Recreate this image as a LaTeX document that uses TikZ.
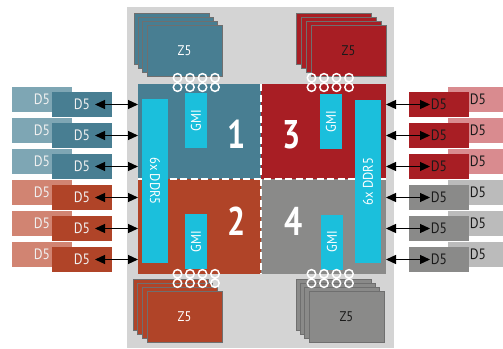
\documentclass[tikz,border=0pt]{standalone}
\usepackage{fontspec}
\setmainfont{PT Sans}
\newfontfamily\condf[FakeStretch=0.9]{PT Sans}
\newfontfamily\numf[FakeStretch=0.8]{PT Sans}
\usetikzlibrary{arrows.meta,calc}
\definecolor{bgc}{HTML}{D4D4D4}
\definecolor{qblue}{HTML}{487E92}
\definecolor{qred}{HTML}{A81E24}
\definecolor{qorange}{HTML}{B04428}
\definecolor{qgray}{HTML}{8A8A89}
\definecolor{cy}{HTML}{1BBFDC}
\definecolor{lblue}{HTML}{7EA6B4}
\definecolor{lorange}{HTML}{D18472}
\definecolor{lpink}{HTML}{D98B8F}
\definecolor{lgray}{HTML}{BBBBBB}
\definecolor{zborder}{HTML}{6F6F6F}
\definecolor{darktxt}{HTML}{1A1A1A}
\tikzset{
  blk/.style={inner sep=0pt, outer sep=0pt, anchor=north west, draw=none},
  zbox/.style={blk, minimum width=75pt, minimum height=51pt, draw=zborder, line width=0.9pt, font=\condf\fontsize{14}{14}\selectfont},
  dbox/.style={blk, minimum width=60pt, minimum height=25pt, font=\condf\fontsize{15}{15}\selectfont},
  bar/.style={inner sep=0pt, outer sep=0pt, fill=cy, text=white, font=\condf\fontsize{14}{14}\selectfont},
  bignum/.style={text=white, inner sep=0pt, font=\numf\bfseries\fontsize{40}{40}\selectfont},
  dashw/.style={draw=white, line width=1.8pt, dash pattern=on 7pt off 3.5pt},
  link/.style={draw=white, line width=1.5pt},
  dbl/.style={{Triangle[length=10pt,width=9pt]}-{Triangle[length=10pt,width=9pt]}, line width=1.2pt, black}
}
\begin{document}
\begin{tikzpicture}[x=1pt,y=-1pt]
\useasboundingbox (0,0) rectangle (503,348);
% background
\node[blk, fill=bgc, minimum width=267pt, minimum height=341pt] (bg) at (127,7) {};
% Z5 stacks
\foreach \i/\dx/\dy in {0/0/0,1/4.3/4,2/8.6/8,3/13/12}{
  \node[zbox, fill=qblue] (ztl\i) at (134+\dx,13+\dy) {};
  \node[zbox, fill=qred] (ztr\i) at (296+5*\i,13+\dy) {};
  \node[zbox, fill=qorange] (zbl\i) at (133+4.67*\i,279+\dy) {};
  \node[zbox, fill=qgray] (zbr\i) at (296+4.33*\i,279+\dy) {};
}
\node[text=white, font=\condf\fontsize{14}{14}\selectfont] (ztlt) at (ztl3.center) {Z5};
\node[text=darktxt, font=\condf\fontsize{14}{14}\selectfont] (ztrt) at (ztr3.center) {Z5};
\node[text=white, font=\condf\fontsize{14}{14}\selectfont] (zblt) at (zbl3.center) {Z5};
\node[text=darktxt, font=\condf\fontsize{14}{14}\selectfont] (zbrt) at (zbr3.center) {Z5};
% quadrants
\node[blk, fill=qblue, minimum width=123pt, minimum height=95pt] (q1) at (138,84) {};
\node[blk, fill=qred, minimum width=125pt, minimum height=95pt] (q3) at (261,84) {};
\node[blk, fill=qorange, minimum width=123pt, minimum height=95pt] (q2) at (138,179) {};
\node[blk, fill=qgray, minimum width=125pt, minimum height=95pt] (q4) at (261,179) {};
\draw[dashw] (q1.north east) -- (q2.south east);
\draw[dashw] (q1.south west) -- (q3.south east);
% numbers
\node[bignum] (n1) at (236.5,134.5) {1};
\node[bignum] (n3) at (291.5,134.5) {3};
\node[bignum] (n2) at (237,221) {2};
\node[bignum] (n4) at (293.5,221) {4};
% DDR bars
\node[bar, minimum width=164pt, minimum height=26pt, rotate=-90] (ddrl) at (155,181) {6x DDR5};
\node[bar, minimum width=163pt, minimum height=26pt, rotate=90] (ddrr) at (368,181.5) {6x DDR5};
% GMI bars
\node[bar, minimum width=55pt, minimum height=22pt, rotate=90] (g1) at (196,120.5) {GMI};
\node[bar, minimum width=55pt, minimum height=22pt, rotate=90] (g3) at (331,121.5) {GMI};
\node[bar, minimum width=55pt, minimum height=22pt, rotate=90] (g2) at (196,241.5) {GMI};
\node[bar, minimum width=55pt, minimum height=22pt, rotate=90] (g4) at (332,242) {GMI};
% links
\foreach \x in {177.5,190,202.5,215,311.5,324,336.5,349}{
  \draw[link] (\x,77.8) circle (4.2) (\x,87.2) circle (4.2);
  \draw[link] (\x,273.8) circle (4.2) (\x,283.2) circle (4.2);
}
% D5 boxes left
\foreach \i in {0,1,2}{
  \node[dbox, fill=lblue, text=white!94!black] (lb\i) at (12,87+31*\i) {D5};
  \node[dbox, fill=qblue, text=white!94!black] (lf\i) at (52,92+31*\i) {D5};
  \draw[dbl] ($(lf\i.east)+(-17,0)$) -- (lf\i.east -| q1.west);
}
\foreach \i in {3,4,5}{
  \node[dbox, fill=lorange, text=white!94!black] (lb\i) at (12,87+31*\i) {D5};
  \node[dbox, fill=qorange, text=white!94!black] (lf\i) at (52,92+31*\i) {D5};
  \draw[dbl] ($(lf\i.east)+(-17,0)$) -- (lf\i.east -| q2.west);
}
% D5 boxes right
\foreach \i in {0,1,2}{
  \node[dbox, fill=lpink, text=darktxt] (rb\i) at (448,87+31*\i) {D5};
  \node[dbox, fill=qred, text=darktxt] (rf\i) at (409,92+31*\i) {D5};
  \draw[dbl] (rf\i.west -| q3.east) -- ($(rf\i.west)+(21,0)$);
}
\foreach \i in {3,4,5}{
  \node[dbox, fill=lgray, text=darktxt] (rb\i) at (448,87+31*\i) {D5};
  \node[dbox, fill=qgray, text=darktxt] (rf\i) at (409,92+31*\i) {D5};
  \draw[dbl] (rf\i.west -| q4.east) -- ($(rf\i.west)+(21,0)$);
}
\end{tikzpicture}
\end{document}
